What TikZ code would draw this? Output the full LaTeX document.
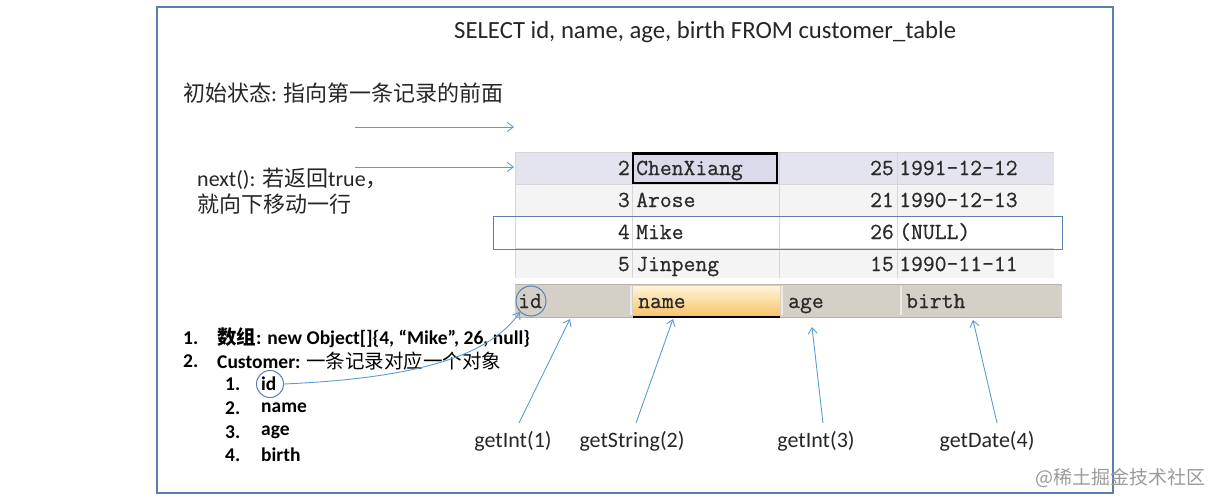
\documentclass[tikz,border=0pt]{standalone}
\usepackage{fontspec}
\setmainfont{Carlito}
\newfontfamily\cjk{Noto Sans CJK SC}
\newfontfamily\tmono[FakeBold=0.7]{Latin Modern Mono}
\usetikzlibrary{arrows.meta,shadings}
\definecolor{frameblue}{HTML}{5A7FB5}
\definecolor{arrblue}{HTML}{5B9BD5}
\definecolor{rowsel}{HTML}{E4E4EE}
\definecolor{cellsel}{HTML}{DADAEA}
\definecolor{rowgrey}{HTML}{F4F4F4}
\definecolor{cellline}{HTML}{D6D6D6}
\definecolor{hdr}{HTML}{D4D0C8}
\definecolor{hdrline}{HTML}{B8B4AC}
\definecolor{hdrsep}{HTML}{EEEBE4}
\definecolor{orgtop}{HTML}{FFF4D8}
\definecolor{orgbot}{HTML}{F8C46A}
\definecolor{wmgrey}{HTML}{9A9A9A}
\definecolor{txt}{HTML}{262626}
\definecolor{celltxt}{HTML}{2A2A2A}
\tikzset{
  conn/.style={draw=arrblue, line width=0.9pt, -{Straight Barb[length=6pt,width=9pt]}},
  lbl/.style={inner sep=0pt, text=txt, font=\fontsize{22}{25}\selectfont},
  tcell/.style={inner sep=0pt, font=\tmono\fontsize{23}{25}\selectfont, text=celltxt},
  litem/.style={inner sep=0pt, anchor=west, text=black, font=\bfseries\fontsize{19.5}{22}\selectfont},
}
\begin{document}
\begin{tikzpicture}[x=1pt,y=-1pt]
\useasboundingbox (0,0) rectangle (1219,503);
% frame
\draw[frameblue, line width=1.2pt] (157,7) rectangle (1113,493);
% title
\node[lbl, anchor=west, font=\fontsize{24.7}{27}\selectfont] (sql) at (454,32) {SELECT id, name, age, birth FROM customer\_table};
\node[lbl, anchor=west] (init) at (183,93) {\cjk 初始状态{\rmfamily:} 指向第一条记录的前面};
\node[lbl, anchor=west] (next1) at (197,179) {next(): {\cjk 若返回}true{\cjk ，}};
\node[lbl, anchor=west] (next2) at (197,204) {\cjk 就向下移动一行};
% table rows
\fill[rowsel] (515,152) rectangle (1054,184);
\fill[rowgrey] (515,184) rectangle (1054,216);
\fill[white] (515,216) rectangle (1054,248);
\fill[rowgrey] (515,248) rectangle (1054,278);
\foreach \x in {632,779,897}{\draw[cellline, line width=0.8pt] (\x,152) -- (\x,278);}
\foreach \y in {184,216,248}{\draw[cellline, line width=0.8pt] (515,\y) -- (1054,\y);}
\draw[cellline, line width=0.8pt] (515,152) -- (515,278);
\draw[cellline, line width=0.8pt] (515,152) -- (1054,152);
\fill[cellsel] (632,152) rectangle (778,184);
\draw[black, line width=2.4pt] (633,153.5) rectangle (777,183);
% row texts
\node[tcell, anchor=base east] (i2) at (630,175) {2};
\node[tcell, anchor=base west] (n2) at (636,175) {ChenXiang};
\node[tcell, anchor=base east] (a2) at (894,175) {25};
\node[tcell, anchor=base west] (b2) at (899,175) {1991-12-12};
\node[tcell, anchor=base east] (i3) at (630,207) {3};
\node[tcell, anchor=base west] (n3) at (636,207) {Arose};
\node[tcell, anchor=base east] (a3) at (894,207) {21};
\node[tcell, anchor=base west] (b3) at (899,207) {1990-12-13};
\node[tcell, anchor=base east] (i4) at (630,239) {4};
\node[tcell, anchor=base west] (n4) at (636,239) {Mike};
\node[tcell, anchor=base east] (a4) at (894,239) {26};
\node[tcell, anchor=base west] (b4) at (899,239) {(NULL)};
\node[tcell, anchor=base east] (i5) at (630,271) {5};
\node[tcell, anchor=base west] (n5) at (636,271) {Jinpeng};
\node[tcell, anchor=base east] (a5) at (894,271) {15};
\node[tcell, anchor=base west] (b5) at (899,271) {1990-11-11};
% highlight box
\draw[frameblue, line width=1pt] (493,216) rectangle (1062,249);
% header
\fill[hdr] (515,284) rectangle (1062,317);
\draw[hdrline, line width=0.8pt] (515,284) -- (1062,284);
\draw[hdrline, line width=0.8pt] (515,317) -- (1062,317);
\foreach \x in {631,782,901}{\draw[hdrsep, line width=1.2pt] (\x,286) -- (\x,315);}
\shade[top color=orgtop, bottom color=orgbot] (633,286) rectangle (780,316);
\draw[black, line width=1.6pt] (633,317) -- (780,317);
\node[tcell, anchor=base west] (hid) at (518,308) {id};
\node[tcell, anchor=base west] (hname) at (638,308) {name};
\node[tcell, anchor=base west] (hage) at (788,308) {age};
\node[tcell, anchor=base west] (hbirth) at (906,308) {birth};
\node[draw=frameblue, line width=1pt, circle, minimum size=30pt, inner sep=0pt] (cid) at (531,301) {};
% pointer arrows
\coordinate (p1s) at (355,127);
\coordinate (p1e) at (514,127);
\coordinate (p2s) at (355,167);
\coordinate (p2e) at (514,167);
\draw[conn] (p1s) -- (p1e);
\draw[conn] (p2s) -- (p2e);
% list
\node[litem] (l1n) at (183,338) {1.};
\node[litem] (l1) at (217,338) {{\cjk 数组}: new Object[]\{4, “Mike”, 26, null\}};
\node[litem] (l2n) at (183,361) {2.};
\node[litem] (l2) at (217,361) {Customer: {\cjk\mdseries 一条记录对应一个对象}};
\node[litem] (s1n) at (225,384) {1.};
\node[litem] (s1) at (261,384) {id};
\node[litem] (s2n) at (225,408) {2.};
\node[litem] (s2) at (261,408) {name};
\node[litem] (s3n) at (225,432) {3.};
\node[litem] (s3) at (261,432) {age};
\node[litem] (s4n) at (225,455) {4.};
\node[litem] (s4) at (261,455) {birth};
\node[draw=frameblue, line width=1pt, circle, minimum size=27pt, inner sep=0pt] (lid) at (270,384) {};
\draw[conn] (lid.east) .. controls (420,378) and (490,355) .. (cid.south west);
% getters
\node[lbl] (g1) at (513,441) {getInt(1)};
\node[lbl] (g2) at (632,441) {getString(2)};
\node[lbl] (g3) at (816,441) {getInt(3)};
\node[lbl] (g4) at (987,441) {getDate(4)};
\coordinate (t1) at (570,319);
\coordinate (t2) at (673,319);
\coordinate (t3) at (812,327);
\coordinate (t4) at (973,320);
\draw[conn] (519,423) -- (t1);
\draw[conn] (636,423) -- (t2);
\draw[conn] (823,423) -- (t3);
\draw[conn] (997,423) -- (t4);
% watermark
\node[inner sep=0pt, anchor=east, text=wmgrey, font=\cjk\fontsize{19}{22}\selectfont] (wm) at (1206,478) {@稀土掘金技术社区};
\end{tikzpicture}
\end{document}
